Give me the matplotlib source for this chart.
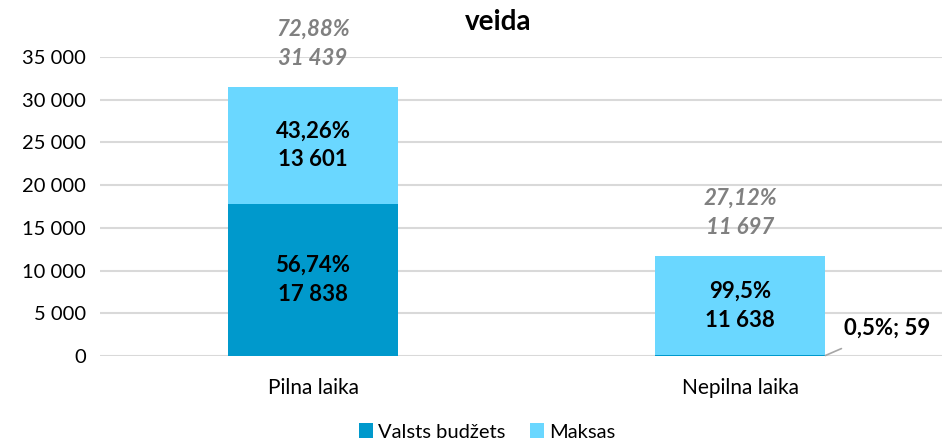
import numpy as np
import matplotlib.pyplot as plt

plt.rcParams['font.family'] = ['Lato', 'DejaVu Sans']

categories = ['Pilna laika', 'Nepilna laika']
valsts = [17838, 59]
maksas = [13601, 11638]
valsts_pct = ['56,74%', '0,5%']
maksas_pct = ['43,26%', '99,5%']
totals = [31439, 11697]
total_pct = ['72,88%', '27,12%']

c_dark = '#0099CC'
c_light = '#6AD7FF'

def fmt(v):
    return f'{v:,}'.replace(',', ' ')

fig = plt.figure(figsize=(9.42, 4.43), dpi=100)
ax = fig.add_axes([100/942, 1-356/443, 842/942, 299/443])

x = np.arange(len(categories))
w = 0.40
ax.bar(x, valsts, w, color=c_dark, label='Valsts budžets', zorder=3)
ax.bar(x, maksas, w, bottom=valsts, color=c_light, label='Maksas', zorder=3)

ax.set_xlim(-0.499, 1.473)
ax.set_ylim(0, 35000)
ax.set_yticks(np.arange(0, 35001, 5000))
ax.set_yticklabels([fmt(v) for v in range(0, 35001, 5000)], fontsize=14.5)
ax.set_xticks(x)
ax.set_xticklabels(categories, fontsize=15)
ax.tick_params(length=0, pad=10)
ax.tick_params(axis='x', pad=16)
ax.grid(axis='y', color='#d9d9d9', linewidth=1.5, zorder=0)
for s in ax.spines.values():
    s.set_visible(False)

# labels inside segments
ax.text(0, valsts[0] / 2, f'{valsts_pct[0]}\n{fmt(valsts[0])}', ha='center', va='center',
        fontsize=16, fontweight='bold', linespacing=1.45, zorder=4)
for i in range(2):
    ax.text(i, valsts[i] + maksas[i] / 2, f'{maksas_pct[i]}\n{fmt(maksas[i])}', ha='center',
            va='center', fontsize=16, fontweight='bold', linespacing=1.45, zorder=4)

# total labels
for i in range(2):
    ax.text(i, totals[i] + 2100, f'{total_pct[i]}\n{fmt(totals[i])}', ha='center', va='bottom',
            fontsize=16, fontweight='bold', style='italic', color='#808080',
            linespacing=1.5, clip_on=False, zorder=4)

# small segment label with leader line
ax.annotate(f'{valsts_pct[1]}; {fmt(valsts[1])}', xy=(1 + w / 2, valsts[1]),
            xytext=(1.345, 3200), ha='center', va='center', fontsize=16, fontweight='bold',
            arrowprops=dict(arrowstyle='-', color='#a6a6a6', lw=1.2, shrinkA=12, shrinkB=0),
            annotation_clip=False, zorder=5)

fig.text(498/942, 1-22/443, 'veida', ha='center', va='center', fontsize=20, fontweight='bold')

ax.legend(loc='center', bbox_to_anchor=(0.46, 1-(432-57)/299), ncol=2, frameon=False,
          fontsize=14.5, handlelength=0.7, handleheight=0.7, handletextpad=0.25, columnspacing=1.2,
          bbox_transform=ax.transAxes, borderpad=0.2)

fig.savefig('out.png', dpi=100)
